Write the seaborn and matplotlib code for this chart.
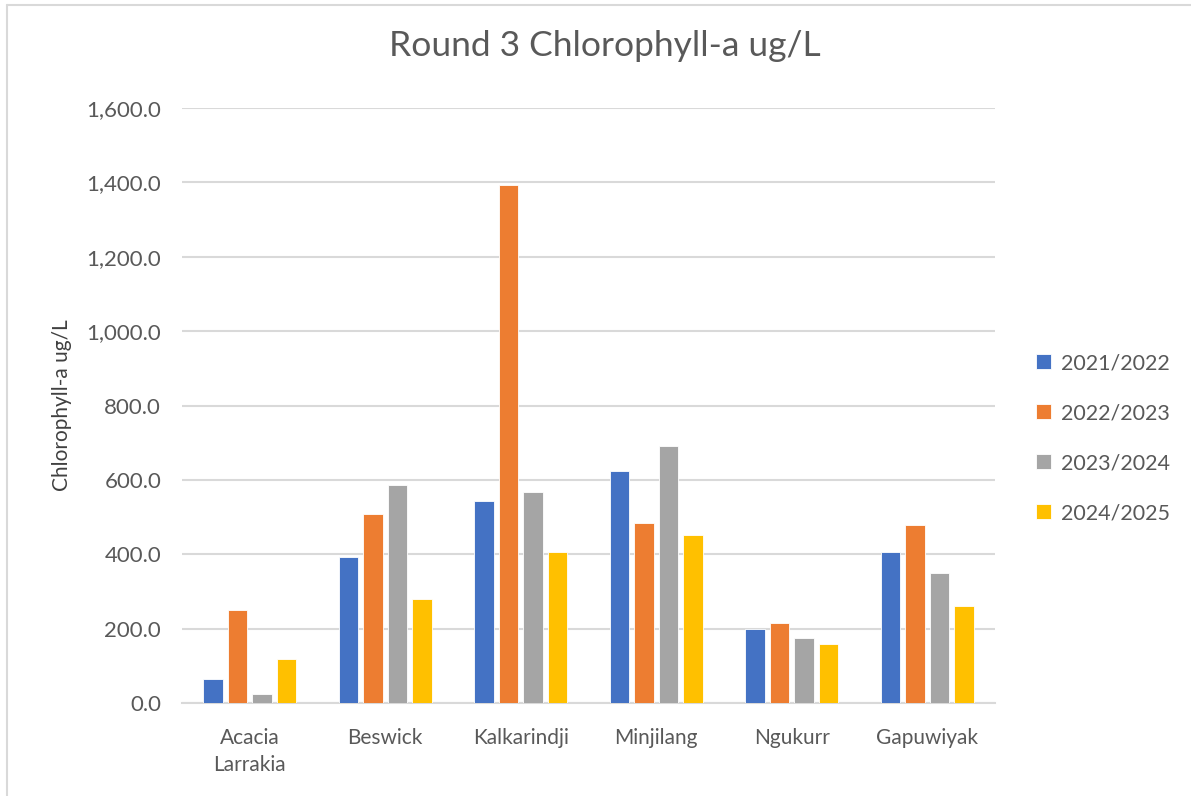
import matplotlib
matplotlib.use("Agg")
from matplotlib import pyplot as plt
from matplotlib.ticker import FuncFormatter
from matplotlib.lines import Line2D
import pandas as pd
import seaborn as sns

# values
sites = ['Acacia\nLarrakia', 'Beswick', 'Kalkarindji', 'Minjilang', 'Ngukurr', 'Gapuwiyak']
seasons = ['2021/2022', '2022/2023', '2023/2024', '2024/2025']
s2122 = [65, 393, 543, 625, 200, 405]
s2223 = [250, 508, 1393, 484, 215, 479]
s2324 = [24, 587, 568, 691, 174, 350]
s2425 = [119, 281, 407, 452, 160, 262]
colours = ['#4472C4', '#ED7D31', '#A5A5A5', '#FFC000']

rows = []
for season, vals in zip(seasons, [s2122, s2223, s2324, s2425]):
    for site, v in zip(sites, vals):
        rows.append({'site': site, 'season': season, 'value': v})
df = pd.DataFrame(rows)

sns.set_style('white')
plt.rcParams['font.family'] = ['Lato', 'DejaVu Sans']
txt = '#595959'

fig = plt.figure(figsize=(11.91, 7.96), dpi=100)
ax = fig.add_axes([0.1528, 0.1168, 0.8354 - 0.1528, 0.8643 - 0.1168])

sns.barplot(data=df, x='site', y='value', hue='season', palette=colours,
            width=0.72, gap=0.2, edgecolor='white', linewidth=0.6,
            saturation=1, errorbar=None, ax=ax, zorder=3)

ax.set_ylim(0, 1600)
ax.set_yticks(range(0, 1601, 200))
ax.yaxis.set_major_formatter(FuncFormatter(lambda v, p: f'{v:,.1f}'))
ax.grid(axis='y', color='#D9D9D9', linewidth=1.5, zorder=0)
ax.set_axisbelow(True)
for s in ['top', 'right', 'left']:
    ax.spines[s].set_visible(False)
ax.spines['bottom'].set_color('#D9D9D9')
ax.spines['bottom'].set_linewidth(1.5)
ax.tick_params(axis='y', length=0, labelsize=16, colors=txt, pad=15)
ax.tick_params(axis='x', length=0, labelsize=15, colors=txt, pad=18)
for lab in ax.get_xticklabels():
    lab.set_linespacing(1.45)
ax.set_xlabel('')
ax.set_ylabel('Chlorophyll-a ug/L', fontsize=15, color='#404040', labelpad=10)

fig.suptitle('Round 3 Chlorophyll-a ug/L', x=0.508, y=0.962, fontsize=25.5, color=txt)

ax.legend(loc='center left', bbox_to_anchor=(1.027, 0.445), frameon=False,
          fontsize=15.5, labelcolor=txt, handlelength=0.7, handleheight=0.7,
          handletextpad=0.45, labelspacing=1.4)

# chart-area frame, only top and left edges visible in the reference
fig.lines.append(Line2D([0.0055, 1.0], [0.9937, 0.9937], transform=fig.transFigure,
                        color='#D9D9D9', linewidth=1.5))
fig.lines.append(Line2D([0.0055, 0.0055], [0.0, 0.9937], transform=fig.transFigure,
                        color='#D9D9D9', linewidth=1.5))

plt.savefig('out.png', dpi=100)
